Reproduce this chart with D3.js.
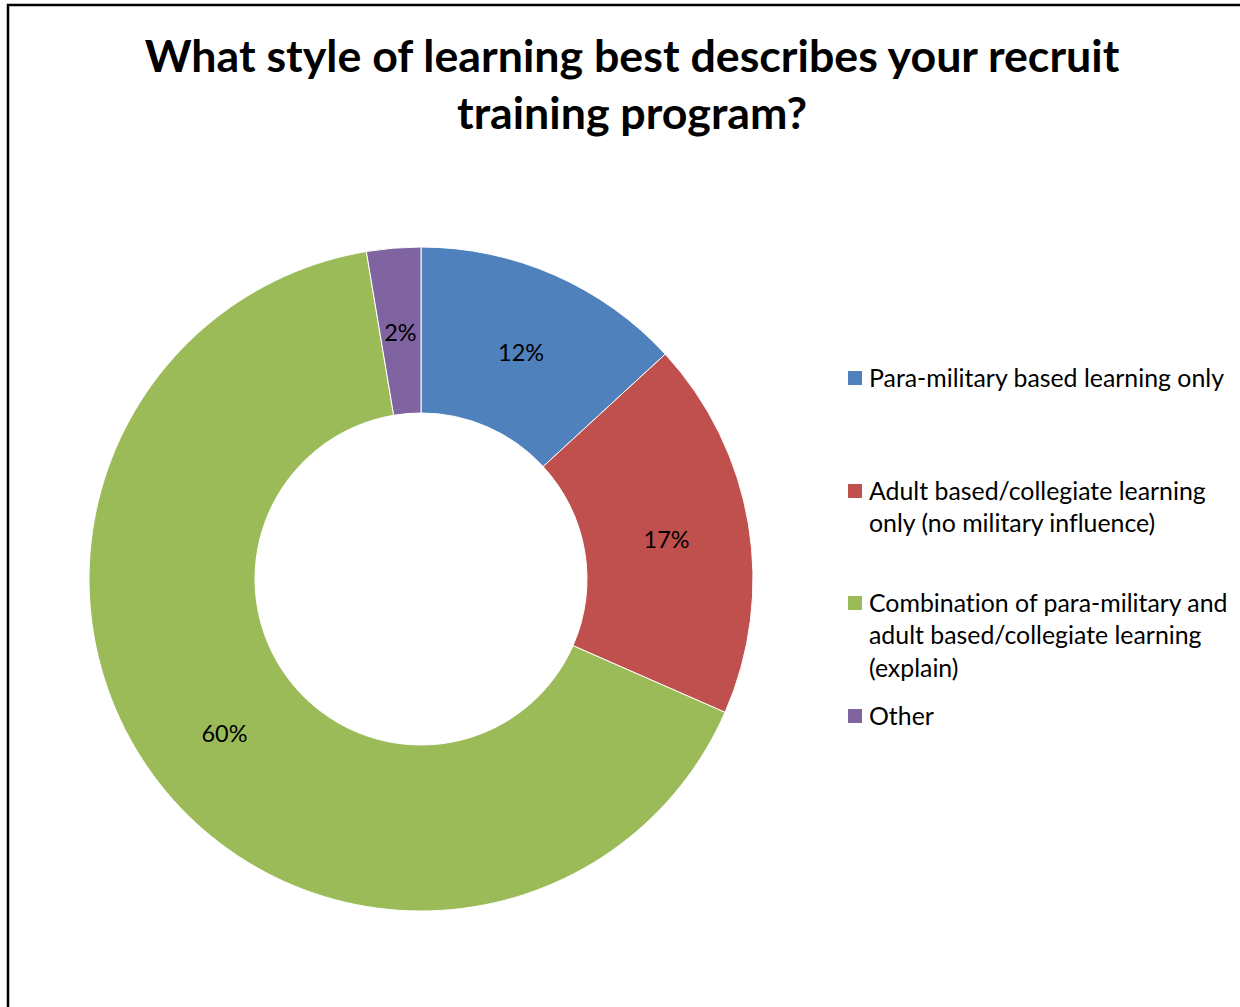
<!DOCTYPE html>
<html><head><meta charset="utf-8">
<script src="https://cdn.jsdelivr.net/npm/d3@7"></script>
<style>
html,body{margin:0;padding:0;background:#fff;}
svg{display:block;font-family:Lato,"Open Sans",sans-serif;font-variant-ligatures:none;}
</style></head>
<body>
<svg id="chart" width="1240" height="1007"></svg>
<script>
const categories = [
  "Para-military based learning only",
  "Adult based/collegiate learning only (no military influence)",
  "Combination of para-military and adult based/collegiate learning (explain)",
  "Other"
];
const counts = [5, 7, 25, 1];
const percentLabels = ["12%", "17%", "60%", "2%"];
const legendLines = [
  ["Para-military based learning only"],
  ["Adult based/collegiate learning", "only (no military influence)"],
  ["Combination of para-military and", "adult based/collegiate learning", "(explain)"],
  ["Other"]
];
const colors = ["#4F81BD", "#C0504D", "#9BBB59", "#8064A2"];
const titleLines = ["What style of learning best describes your recruit", "training program?"];

const svg = d3.select("#chart");
svg.append("rect").attr("x", 8).attr("y", 5).attr("width", 1240).attr("height", 1010)
  .attr("fill", "#fff").attr("stroke", "#000").attr("stroke-width", 2.5);

function fit(sel, target) {
  const w = sel.node().getComputedTextLength();
  const fs = parseFloat(sel.attr("font-size"));
  sel.attr("font-size", fs * target / w);
}

// title
const t1 = svg.append("text").attr("x", 632).attr("y", 72).attr("text-anchor", "middle")
  .attr("font-size", 40).attr("font-weight", "bold").attr("fill", "#000").text(titleLines[0]);
fit(t1, 975);
const fsT = t1.attr("font-size");
svg.append("text").attr("x", 632).attr("y", 129).attr("text-anchor", "middle")
  .attr("font-size", fsT).attr("font-weight", "bold").attr("fill", "#000").text(titleLines[1]);

// donut
const cx = 421, cy = 579, R = 332, r = 166;
const pie = d3.pie().sort(null).value(d => d)(counts);
const arc = d3.arc().innerRadius(r).outerRadius(R);
const g = svg.append("g").attr("transform", `translate(${cx},${cy})`);
g.selectAll("path").data(pie).join("path")
  .attr("d", arc).attr("fill", (d, i) => colors[i])
  .attr("stroke", "#fff").attr("stroke-width", 1);
const lbls = g.selectAll("text.lbl").data(pie).join("text").attr("class", "lbl")
  .attr("transform", d => `translate(${arc.centroid(d)})`)
  .attr("text-anchor", "middle").attr("dy", "0.42em")
  .attr("font-size", 21).attr("fill", "#000")
  .text((d, i) => percentLabels[i]);
fit(d3.select(lbls.nodes()[0]), 46);
lbls.attr("font-size", d3.select(lbls.nodes()[0]).attr("font-size"));

// legend
const legendY = [378, 491, 603, 716];
const lg = svg.append("g");
let legendFs = null;
legendLines.forEach((lines, i) => {
  lg.append("rect").attr("x", 848).attr("y", legendY[i] - 7).attr("width", 14).attr("height", 14)
    .attr("fill", colors[i]);
  lines.forEach((ln, j) => {
    const tx = lg.append("text").attr("x", 869).attr("y", legendY[i] + j * 32.5)
      .attr("dy", "0.35em").attr("font-size", 22).attr("fill", "#000").text(ln);
    if (i === 0 && j === 0) { fit(tx, 355); legendFs = tx.attr("font-size"); }
    else tx.attr("font-size", legendFs);
  });
});
</script>
</body></html>
